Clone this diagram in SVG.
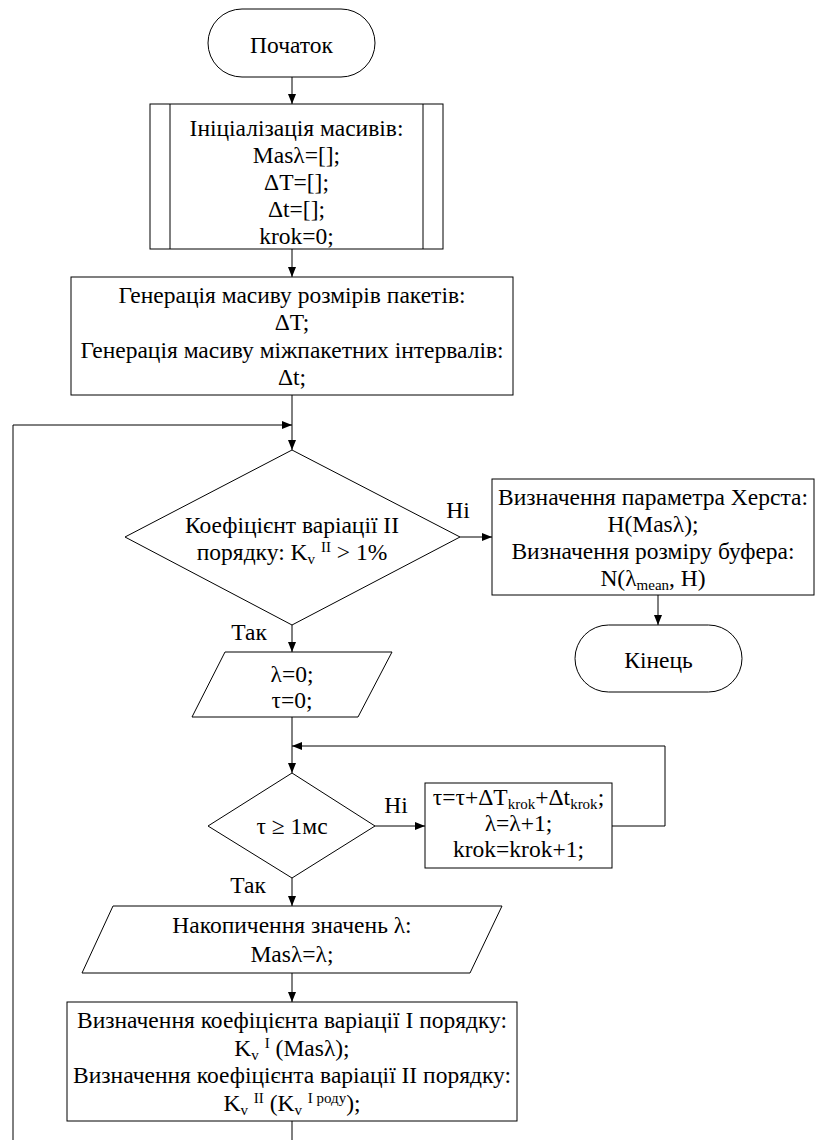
<svg xmlns="http://www.w3.org/2000/svg" width="815" height="1140" viewBox="0 0 815 1140" font-family="'Liberation Serif', serif">
<style>
.s{fill:#fff;stroke:#000;stroke-width:1}
.l{fill:none;stroke:#000;stroke-width:1}
text{font-family:'Liberation Serif',serif;font-size:23.5px;fill:#000;text-anchor:middle}
.sm{font-size:15px}
</style>
<defs>
<marker id="a" viewBox="0 0 10 10" refX="10" refY="5" markerWidth="10" markerHeight="10" markerUnits="userSpaceOnUse" orient="auto">
<path d="M0,1 L10,5 L0,9 Z" fill="#000"/>
</marker>
</defs>
<g id="connectors">
<line class="l" x1="292" y1="77" x2="292" y2="104" marker-end="url(#a)"/>
<line class="l" x1="292" y1="249" x2="292" y2="277" marker-end="url(#a)"/>
<line class="l" x1="292" y1="395" x2="292" y2="450" marker-end="url(#a)"/>
<polyline class="l" points="13,1140 13,425 292,425" marker-end="url(#a)"/>
<line class="l" x1="460" y1="537" x2="492" y2="537" marker-end="url(#a)"/>
<line class="l" x1="658" y1="595" x2="658" y2="625" marker-end="url(#a)"/>
<line class="l" x1="292" y1="625" x2="292" y2="652" marker-end="url(#a)"/>
<line class="l" x1="292" y1="717" x2="292" y2="773" marker-end="url(#a)"/>
<polyline class="l" points="612,826 665,826 665,746 292,746" marker-end="url(#a)"/>
<line class="l" x1="375" y1="826" x2="425" y2="826" marker-end="url(#a)"/>
<line class="l" x1="292" y1="878" x2="292" y2="906" marker-end="url(#a)"/>
<line class="l" x1="292" y1="973" x2="292" y2="1002" marker-end="url(#a)"/>
<line class="l" x1="292" y1="1121" x2="292" y2="1140"/>
<text x="458" y="518">Ні</text>
<text x="249" y="640">Так</text>
<text x="396" y="813">Ні</text>
<text x="248" y="893">Так</text>
</g>
<g id="start">
<rect class="s" x="208" y="9" width="167" height="68" rx="34" ry="34"/>
<text x="291.5" y="53">Початок</text>
</g>
<g id="init">
<rect class="s" x="150" y="104" width="293" height="145"/>
<line class="l" x1="170" y1="104" x2="170" y2="249"/>
<line class="l" x1="423" y1="104" x2="423" y2="249"/>
<text x="296.5" y="136">Ініціалізація масивів:</text>
<text x="296.5" y="163">Masλ=[];</text>
<text x="296.5" y="190">ΔT=[];</text>
<text x="296.5" y="217">Δt=[];</text>
<text x="296.5" y="244">krok=0;</text>
</g>
<g id="generate">
<rect class="s" x="71" y="277" width="442" height="118"/>
<text x="292" y="303">Генерація масиву розмірів пакетів:</text>
<text x="292" y="330">ΔT;</text>
<text x="292" y="358">Генерація масиву міжпакетних інтервалів:</text>
<text x="292" y="385">Δt;</text>
</g>
<g id="cond1">
<polygon class="s" points="292,450 460,537 292,625 125,537"/>
<text x="292" y="533">Коефіцієнт варіації II</text>
<text x="292" y="560">порядку: K<tspan class="sm" dy="4">v</tspan><tspan dy="-4"> </tspan><tspan class="sm" dy="-8">II</tspan><tspan dy="8"> &gt; 1%</tspan></text>
</g>
<g id="hurst">
<rect class="s" x="492" y="479" width="322" height="116"/>
<text x="653" y="505">Визначення параметра Херста:</text>
<text x="653" y="532">H(Masλ);</text>
<text x="653" y="559">Визначення розміру буфера:</text>
<text x="653" y="586">N(λ<tspan class="sm" dy="4">mean</tspan><tspan dy="-4">, H)</tspan></text>
</g>
<g id="end">
<rect class="s" x="575" y="625" width="167" height="67" rx="33.5" ry="33.5"/>
<text x="658.5" y="668">Кінець</text>
</g>
<g id="initvars">
<polygon class="s" points="225,652 392,652 358,717 192,717"/>
<text x="292" y="682">λ=0;</text>
<text x="292" y="708">τ=0;</text>
</g>
<g id="cond2">
<polygon class="s" points="292,773 375,826 292,878 208,826"/>
<text x="292" y="834">τ ≥ 1мс</text>
</g>
<g id="step">
<rect class="s" x="425" y="783" width="187" height="85"/>
<text x="518.5" y="805">τ=τ+ΔT<tspan class="sm" dy="4">krok</tspan><tspan dy="-4">+Δt</tspan><tspan class="sm" dy="4">krok</tspan><tspan dy="-4">;</tspan></text>
<text x="518.5" y="831">λ=λ+1;</text>
<text x="518.5" y="857">krok=krok+1;</text>
</g>
<g id="accumulate">
<polygon class="s" points="113,906 502,906 470,973 82,973"/>
<text x="292" y="933">Накопичення значень λ:</text>
<text x="292" y="962">Masλ=λ;</text>
</g>
<g id="coef">
<rect class="s" x="67" y="1002" width="450" height="119"/>
<text x="292" y="1028">Визначення коефіцієнта варіації I порядку:</text>
<text x="292" y="1056">K<tspan class="sm" dy="4">v</tspan><tspan dy="-4"> </tspan><tspan class="sm" dy="-8">I</tspan><tspan dy="8"> (Masλ);</tspan></text>
<text x="292" y="1083">Визначення коефіцієнта варіації II порядку:</text>
<text x="292" y="1111">K<tspan class="sm" dy="4">v</tspan><tspan dy="-4"> </tspan><tspan class="sm" dy="-8">II</tspan><tspan dy="8"> (K</tspan><tspan class="sm" dy="4">v</tspan><tspan dy="-4"> </tspan><tspan class="sm" dy="-8">I роду</tspan><tspan dy="8">);</tspan></text>
</g>
</svg>
